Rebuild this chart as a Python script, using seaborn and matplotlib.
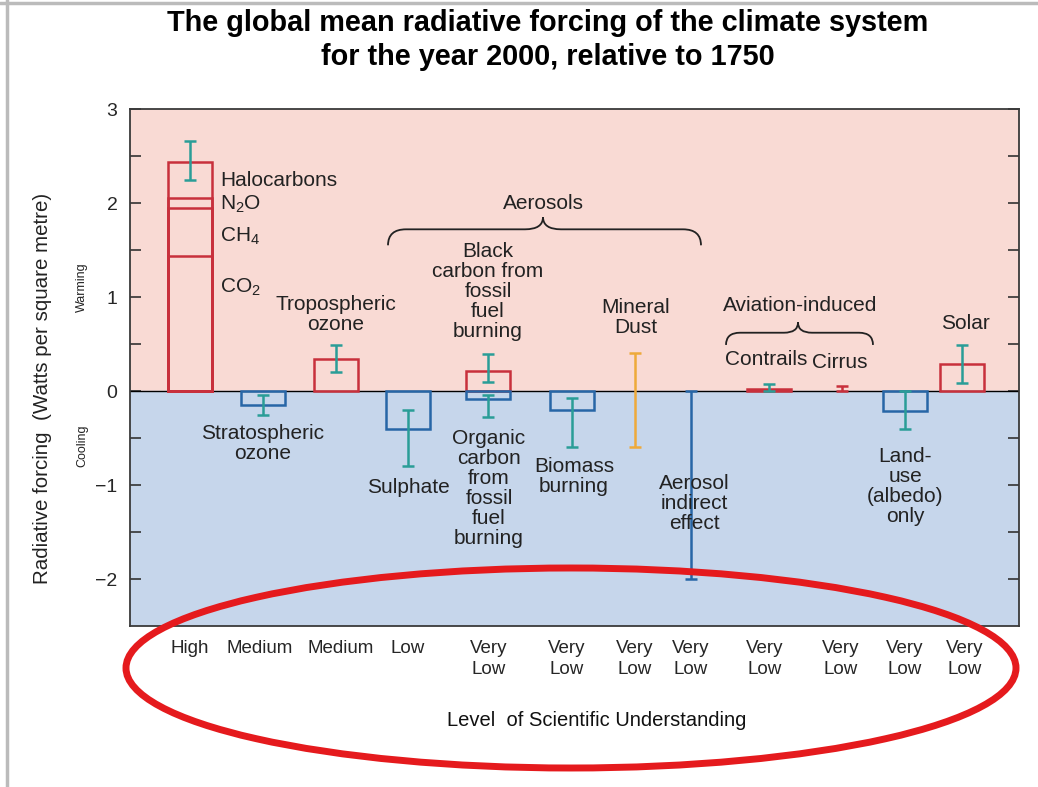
import numpy as np
import pandas as pd
import matplotlib
matplotlib.use('Agg')
import matplotlib.pyplot as plt
from matplotlib.patches import Ellipse, PathPatch
from matplotlib.path import Path
from matplotlib.lines import Line2D
import seaborn as sns

# forcing agents along the x axis and their level of scientific understanding
agents = ['Greenhouse gases', 'Stratospheric ozone', 'Tropospheric ozone', 'Sulphate',
          'Fossil fuel carbon', 'Biomass burning', 'Mineral dust', 'Aerosol indirect effect',
          'Contrails', 'Cirrus', 'Land-use', 'Solar']
losu = ['High', 'Medium', 'Medium', 'Low', 'Very\nLow', 'Very\nLow', 'Very\nLow', 'Very\nLow',
        'Very\nLow', 'Very\nLow', 'Very\nLow', 'Very\nLow']

# hollow bars (W m-2); greenhouse gases as cumulative levels
bar_agent = ['Greenhouse gases'] * 4 + ['Stratospheric ozone', 'Tropospheric ozone', 'Sulphate',
             'Fossil fuel carbon', 'Fossil fuel carbon', 'Biomass burning', 'Contrails',
             'Land-use', 'Solar']
bar_part = ['Halocarbons', 'N2O', 'CH4', 'CO2', 'Stratospheric ozone', 'Tropospheric ozone',
            'Sulphate', 'Black carbon', 'Organic carbon', 'Biomass burning', 'Contrails',
            'Land-use', 'Solar']
bar_value = [2.44, 2.05, 1.95, 1.44, -0.15, 0.34, -0.40, 0.21, -0.09, -0.20, 0.02, -0.21, 0.29]

# uncertainty ranges
err_agent = ['Greenhouse gases', 'Stratospheric ozone', 'Tropospheric ozone', 'Sulphate',
             'Fossil fuel carbon', 'Fossil fuel carbon', 'Biomass burning', 'Mineral dust',
             'Aerosol indirect effect', 'Contrails', 'Cirrus', 'Land-use', 'Solar']
err_low = [2.24, -0.26, 0.20, -0.80, 0.10, -0.28, -0.60, -0.60, -2.00, 0.00, 0.00, -0.40, 0.09]
err_high = [2.66, -0.04, 0.49, -0.20, 0.39, -0.04, -0.07, 0.40, 0.00, 0.07, 0.05, 0.00, 0.49]

# layout: horizontal position of each agent (pixel-like axis units)
agent_x = dict(zip(agents, [190, 263, 336, 408, 488, 572, 635, 691, 769, 842, 905, 962]))
losu_x = [190, 260, 341, 408, 489, 567, 635, 691, 765, 841, 905, 965]

RED = '#c8303c'
BLUE = '#2766a6'
TEAL = '#2a9d97'
ORANGE = '#eeaa3a'
err_colors = {'Mineral dust': ORANGE, 'Aerosol indirect effect': BLUE, 'Cirrus': RED}

sns.set_style('white')
plt.rcParams['font.family'] = ['Liberation Sans', 'DejaVu Sans']
plt.rcParams['mathtext.default'] = 'regular'
NARROW = ['Liberation Sans Narrow', 'Liberation Sans']

fig = plt.figure(figsize=(10.38, 7.87), dpi=100)
ax = fig.add_axes([130 / 1038, 1 - 626 / 787, 889 / 1038, 517 / 787])

ax.axhspan(0, 3, color='#f9dad4', zorder=0)
ax.axhspan(-2.5, 0, color='#c6d6eb', zorder=0)

df = pd.DataFrame({'pos': [agent_x[a] for a in bar_agent], 'part': bar_part, 'value': bar_value})
palette = {p: (RED if v > 0 else BLUE) for p, v in zip(bar_part, bar_value)}
spacing = np.diff(np.unique(df['pos'])).min()
sns.barplot(data=df, x='pos', y='value', hue='part', palette=palette, native_scale=True,
            dodge=False, fill=False, linewidth=1.8, width=44 / spacing, errorbar=None,
            legend=False, ax=ax, zorder=3)

for a, lo, hi in zip(err_agent, err_low, err_high):
    c = err_colors.get(a, TEAL)
    ax.errorbar(agent_x[a], (lo + hi) / 2, yerr=(hi - lo) / 2, fmt='none', ecolor=c,
                elinewidth=1.8, capsize=4.5, capthick=1.8, zorder=4)

ax.axhline(0, color='black', lw=1, zorder=2)

ax.set_xlim(130, 1019)
ax.set_ylim(-2.5, 3)
ax.set_yticks([-2, -1, 0, 1, 2, 3])
ax.set_yticklabels(['\u22122', '\u22121', '0', '1', '2', '3'])
ax.set_yticks(np.arange(-2, 3, 0.5), minor=True)
ax.tick_params(axis='y', which='both', direction='in', left=True, right=True,
               length=8, width=1.2, color='#333333', labelsize=14, pad=9)
ax.set_xticks(losu_x)
ax.set_xticklabels(losu, family=NARROW, fontsize=13.5, linespacing=1.35)
ax.tick_params(axis='x', length=0, pad=10)
ax.set_xlabel('')
ax.set_ylabel('')
for s in ax.spines.values():
    s.set_color('#3a3a3a')
    s.set_linewidth(1.3)


def brace(x0, x1, xm, y_tip, y_mid, y_peak, r):
    verts = [(x0, y_tip), (x0, y_mid), (x0 + r, y_mid), (xm - r, y_mid),
             (xm, y_mid), (xm, y_peak), (xm, y_mid), (xm + r, y_mid),
             (x1 - r, y_mid), (x1, y_mid), (x1, y_tip)]
    codes = [Path.MOVETO, Path.CURVE3, Path.CURVE3, Path.LINETO, Path.CURVE3, Path.CURVE3,
             Path.CURVE3, Path.CURVE3, Path.LINETO, Path.CURVE3, Path.CURVE3]
    ax.add_patch(PathPatch(Path(verts, codes), fill=False, lw=1.3, ec='#222222', zorder=5))


brace(388, 701, 543, 1.55, 1.72, 1.85, 18)
brace(726, 873, 798, 0.49, 0.62, 0.73, 14)

txt = dict(fontsize=15, color='#222222', linespacing=1.07, zorder=6)
ax.text(220, 2.24, 'Halocarbons', ha='left', va='center', **txt)
ax.text(220, 1.99, 'N$_2$O', ha='left', va='center', **txt)
ax.text(220, 1.64, 'CH$_4$', ha='left', va='center', **txt)
ax.text(220, 1.10, 'CO$_2$', ha='left', va='center', **txt)
ax.text(336, 0.81, 'Tropospheric\nozone', ha='center', va='center', **txt)
ax.text(263, -0.56, 'Stratospheric\nozone', ha='center', va='center', **txt)
ax.text(408, -1.03, 'Sulphate', ha='center', va='center', **txt)
ax.text(488, 1.06, 'Black\ncarbon from\nfossil\nfuel\nburning', ha='center', va='center', **txt)
ax.text(489, -1.04, 'Organic\ncarbon\nfrom\nfossil\nfuel\nburning', ha='center', va='center', **txt)
ax.text(574, -0.91, 'Biomass\nburning', ha='center', va='center', **txt)
ax.text(636, 0.78, 'Mineral\nDust', ha='center', va='center', **txt)
ax.text(694, -1.20, 'Aerosol\nindirect\neffect', ha='center', va='center', **txt)
ax.text(543, 1.99, 'Aerosols', ha='center', va='center', **txt)
ax.text(800, 0.91, 'Aviation-induced', ha='center', va='center', **txt)
ax.text(766, 0.33, 'Contrails', ha='center', va='center', **txt)
ax.text(840, 0.30, 'Cirrus', ha='center', va='center', **txt)
ax.text(965, 0.72, 'Solar', ha='center', va='center', **txt)
ax.text(905, -1.02, 'Land-\nuse\n(albedo)\nonly', ha='center', va='center', **txt)

fig.text(43 / 1038, 1 - 388 / 787, 'Radiative forcing  (Watts per square metre)',
         rotation=90, ha='center', va='center', fontsize=14.8, color='#222222')
fig.text(82 / 1038, 1 - 287 / 787, 'Warming', rotation=90, ha='center', va='center',
         fontsize=9, color='#222222')
fig.text(82 / 1038, 1 - 446 / 787, 'Cooling', rotation=90, ha='center', va='center',
         fontsize=9, color='#222222')
fig.text(597 / 1038, 1 - 720 / 787, 'Level  of Scientific Understanding', ha='center',
         va='center', family=NARROW, fontsize=14.5, color='#111111')
fig.text(548 / 1038, 1 - 40 / 787,
         'The global mean radiative forcing of the climate system\nfor the year 2000, relative to 1750',
         ha='center', va='center', fontsize=20.8, fontweight='bold', linespacing=1.25,
         color='black')

fig.add_artist(Ellipse((571 / 1038, 1 - 668 / 787), 890 / 1038, 200 / 787,
                       transform=fig.transFigure, fill=False, ec='#e51a1d', lw=5, zorder=10))
fig.add_artist(Line2D([0, 1], [1 - 3 / 787] * 2, color='#bbbbbb', lw=2.5))
fig.add_artist(Line2D([7 / 1038] * 2, [0, 1], color='#bbbbbb', lw=2.5))

fig.savefig('out.png', dpi=100)
